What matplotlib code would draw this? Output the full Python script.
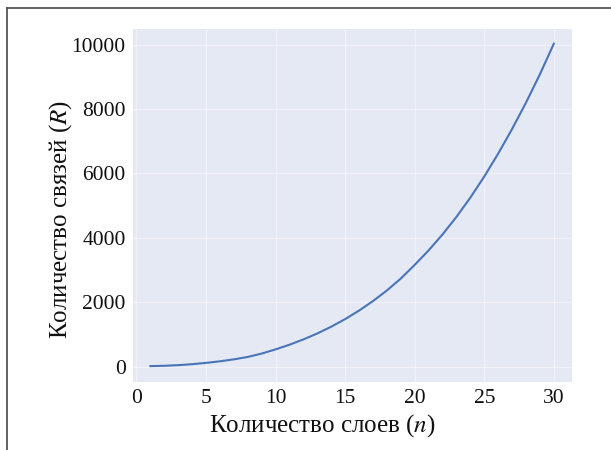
import matplotlib
matplotlib.use("Agg")
import matplotlib.pyplot as plt
from matplotlib.lines import Line2D

# number of layers n and number of connections R
layers = list(range(1, 31))
links = [15, 25, 45, 75, 115, 165, 225, 300, 405, 535,
         680, 845, 1030, 1240, 1475, 1740, 2035, 2365, 2735, 3160,
         3610, 4105, 4650, 5250, 5905, 6615, 7380, 8200, 9080, 10030]

x_ticks = [0, 5, 10, 15, 20, 25, 30]
y_ticks = [0, 2000, 4000, 6000, 8000, 10000]

plt.rcParams['font.family'] = ['Liberation Serif', 'DejaVu Serif']
plt.rcParams['mathtext.fontset'] = 'stix'

fig = plt.figure(figsize=(6.11, 4.5), dpi=100)
ax = fig.add_axes([0.217, 0.151, 0.719, 0.784])
ax.set_facecolor('#e5e9f3')

ax.plot(layers, links, color='#4a74b8', linewidth=1.5)

ax.set_xlim(-0.28, 31.3)
ax.set_ylim(-480, 10480)
ax.set_xticks(x_ticks)
ax.set_yticks(y_ticks)
ax.grid(True, color='white', linewidth=1.0, alpha=0.45)
ax.set_axisbelow(True)
for s in ax.spines.values():
    s.set_visible(False)
ax.tick_params(length=0, labelsize=15.5, pad=5, colors='#111111')

ax.set_xlabel('Количество слоев ($n$)', fontsize=18, color='#111111')
ax.set_ylabel('Количество связей ($R$)', fontsize=18, color='#111111')
# labels in the scan sit a bit off-centre
ax.xaxis.set_label_coords(0.431, -0.122)
ax.xaxis.label.set_va('center')
ax.yaxis.set_label_coords(-0.163, 0.462)
ax.yaxis.label.set_va('center')

# page frame from the scan
fig.add_artist(Line2D([6.5 / 611, 1.0], [1 - 7.5 / 450, 1 - 7.5 / 450],
                      transform=fig.transFigure, color='#555555', linewidth=1.3))
fig.add_artist(Line2D([6.5 / 611, 6.5 / 611], [0.0, 1 - 7.5 / 450],
                      transform=fig.transFigure, color='#555555', linewidth=1.3))

fig.savefig('out.png', dpi=100, facecolor='white')
